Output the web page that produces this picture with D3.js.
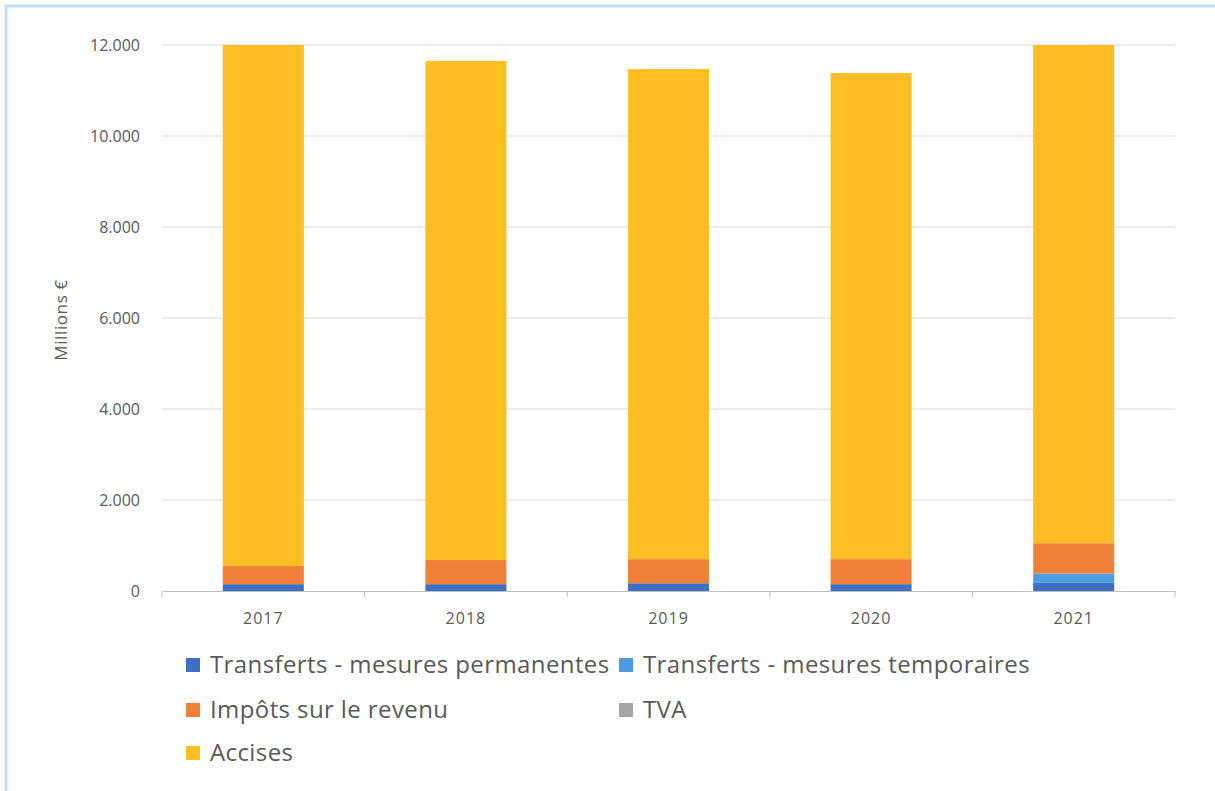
<!DOCTYPE html>
<html>
<head>
<meta charset="utf-8">
<script src="https://cdn.jsdelivr.net/npm/d3@7"></script>
<style>
  body { margin: 0; background: #fff; }
  text { font-family: "Open Sans", "Liberation Sans", sans-serif; fill: #595959; }
</style>
</head>
<body>
<div id="chart"></div>
<script>
// years on the x axis
var years = ["2017", "2018", "2019", "2020", "2021"];

// series values, in millions €
var permanentes = [150, 150, 170, 150, 180];
var temporaires = [0, 0, 0, 0, 205];
var impots = [400, 530, 530, 550, 665];
var tva = [0, 0, 0, 0, 0];
var accises = [11450, 10970, 10770, 10685, 10950];

var seriesNames = ["Transferts - mesures permanentes", "Transferts - mesures temporaires",
                   "Impôts sur le revenu", "TVA", "Accises"];
var seriesColors = ["#4070c2", "#4d9be0", "#f07f38", "#a5a5a5", "#fcbd25"];
var yTicks = [0, 2000, 4000, 6000, 8000, 10000, 12000];

var svgWidth = 1215;
var svgHeight = 791;

var margin = { top: 45, right: 40, bottom: 200, left: 162 };
var width = 1175 - margin.left;
var height = 591 - margin.top;

var svg = d3.select("#chart")
  .append("svg")
  .attr("width", svgWidth)
  .attr("height", svgHeight);

// light blue frame, top and left
svg.append("line").attr("x1", 5).attr("x2", svgWidth).attr("y1", 6).attr("y2", 6)
  .attr("stroke", "#c6e2ec").attr("stroke-width", 3);
svg.append("line").attr("x1", 6).attr("x2", 6).attr("y1", 5).attr("y2", svgHeight)
  .attr("stroke", "#c6e2ec").attr("stroke-width", 3);

var chartGroup = svg.append("g")
  .attr("transform", `translate(${margin.left}, ${margin.top})`);

var x = d3.scaleBand().domain(years).range([0, width]).paddingInner(0.6).paddingOuter(0.3);
var xOuter = d3.scaleBand().domain(years).range([0, width]);
var y = d3.scaleLinear().domain([0, 12000]).range([height, 0]);

// gridlines
chartGroup.selectAll(".grid")
  .data(yTicks.slice(1))
  .enter()
  .append("line")
  .attr("x1", 0)
  .attr("x2", width)
  .attr("y1", d => y(d))
  .attr("y2", d => y(d))
  .attr("stroke", "#d9d9d9")
  .attr("stroke-width", 1);

// stack the data
var table = years.map(function(yr, i) {
  return { year: yr, s0: permanentes[i], s1: temporaires[i], s2: impots[i], s3: tva[i], s4: accises[i] };
});
var stack = d3.stack().keys(["s0", "s1", "s2", "s3", "s4"]);
var layers = stack(table);

chartGroup.selectAll(".layer")
  .data(layers)
  .enter()
  .append("g")
  .attr("fill", (d, i) => seriesColors[i])
  .selectAll("rect")
  .data(d => d)
  .enter()
  .append("rect")
  .attr("x", d => x(d.data.year))
  .attr("width", x.bandwidth())
  .attr("y", d => y(Math.min(d[1], 12000)))
  .attr("height", d => y(d[0]) - y(Math.min(d[1], 12000)));

// y axis labels
var yAxis = d3.axisLeft(y).tickValues(yTicks).tickSize(0).tickPadding(22)
  .tickFormat(d => d3.format(",")(d).replace(",", "."));
var yG = chartGroup.append("g").call(yAxis);
yG.select(".domain").remove();
yG.selectAll("text").style("font-size", "16px").attr("fill", "#595959");

// x axis
var xAxis = d3.axisBottom(xOuter).tickSize(0).tickPadding(22);
var xG = chartGroup.append("g").attr("transform", `translate(0, ${height})`).call(xAxis);
xG.select(".domain").attr("stroke", "#bfbfbf");
xG.selectAll("text").style("font-size", "16px").style("letter-spacing", "1px").attr("fill", "#595959");

// small ticks between categories
var bounds = years.map(d => xOuter(d) + xOuter.step()).concat([0]);
chartGroup.selectAll(".xtick")
  .data(bounds)
  .enter()
  .append("line")
  .attr("x1", d => d)
  .attr("x2", d => d)
  .attr("y1", height)
  .attr("y2", height + 6)
  .attr("stroke", "#bfbfbf");

// y title
svg.append("text")
  .attr("transform", "translate(67, 320) rotate(-90)")
  .attr("text-anchor", "middle")
  .style("font-size", "17px")
  .style("letter-spacing", "0.6px")
  .text("Millions €");

// legend
var legendPos = [[186, 665], [619, 665], [186, 710], [619, 710], [186, 753]];
var legend = svg.selectAll(".legend")
  .data(seriesNames)
  .enter()
  .append("g")
  .attr("transform", (d, i) => `translate(${legendPos[i][0]}, ${legendPos[i][1]})`);

legend.append("rect")
  .attr("x", 0)
  .attr("y", -7)
  .attr("width", 14)
  .attr("height", 14)
  .attr("fill", (d, i) => seriesColors[i]);

legend.append("text")
  .attr("x", 24)
  .attr("y", 0)
  .attr("dy", "0.35em")
  .style("font-size", "24px")
  .style("letter-spacing", "0.4px")
  .text(d => d);
</script>
</body>
</html>
